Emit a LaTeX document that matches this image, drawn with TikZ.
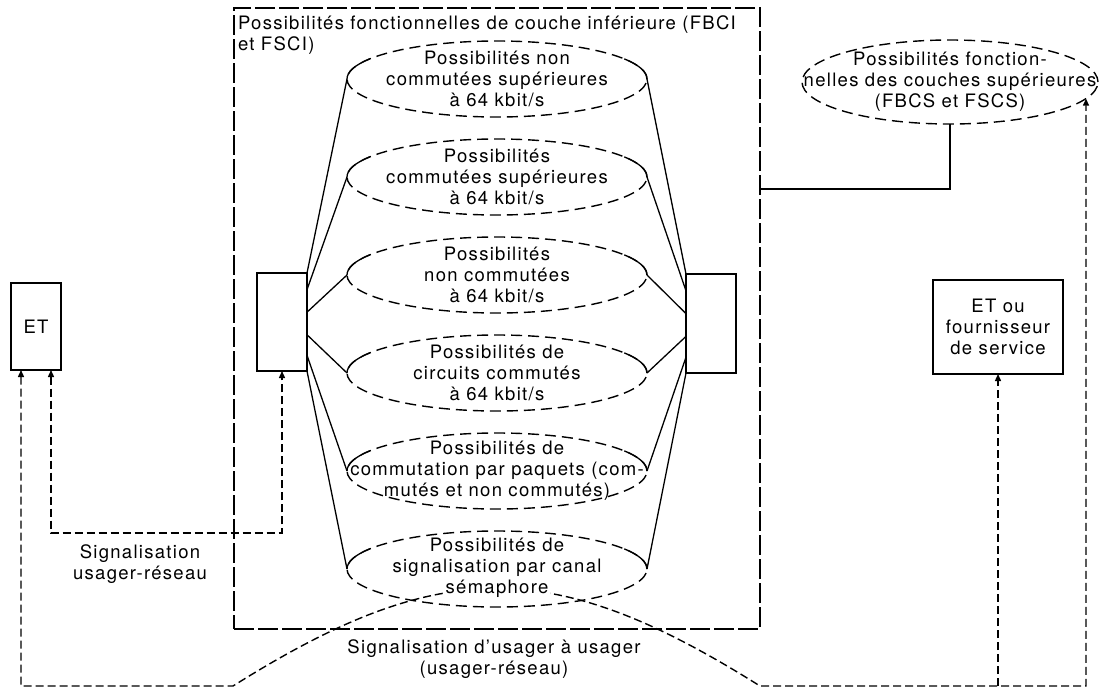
\documentclass[tikz,border=0pt]{standalone}
\usepackage{fontspec}
\setmainfont{TeX Gyre Heros}[LetterSpace=7]
\usetikzlibrary{arrows.meta,calc,shapes.geometric}
\setlength\fboxsep{1.5pt}
\begin{document}
\begin{tikzpicture}[x=1pt,y=-1pt,
  every node/.style={font=\fontsize{18.5}{21}\selectfont, inner sep=0pt, outer sep=0pt},
  ell/.style={draw, ellipse, dash pattern=on 11pt off 6pt, line width=1.4pt, minimum width=300pt, minimum height=76pt},
  boxe/.style={draw, line width=2.6pt},
  conn/.style={line width=1.3pt},
  sig/.style={line width=1.4pt, dash pattern=on 8pt off 4pt},
  framebox/.style={draw, line width=1.1pt, dash pattern=on 20pt off 4pt},
  txt/.style={align=center},
  >={Triangle[length=7pt,width=6pt]}
]
\useasboundingbox (0,0) rectangle (1099,691);

% frame
\node[framebox, minimum width=526pt, minimum height=621pt, anchor=north west] (frame) at (234,8) {};
\node[anchor=north west, align=left] (ftitle) at (238,15.5) {Possibilités fonctionnelles de couche inférieure (FBCI\\et FSCI)};

% ellipses
\node[ell, label={[txt]center:{Possibilités non\\commutées supérieures\\à 64 kbit/s}}] (e1) at (497,79) {};
\node[ell, label={[txt]center:{Possibilités\\commutées supérieures\\à 64 kbit/s}}] (e2) at (497,177) {};
\node[ell, label={[txt]center:{Possibilités\\non commutées\\à 64 kbit/s}}] (e3) at (497,275) {};
\node[ell, label={[txt]center:{Possibilités de\\circuits commutés\\à 64 kbit/s}}] (e4) at (497,373) {};
\node[ell, label={[txt]center:{Possibilités de\\commutation par paquets (com-\\mutés et non commutés)}}] (e5) at (497,471) {};

% boxes
\node[boxe, minimum width=50pt, minimum height=98pt] (lb) at (282,322) {};
\node[boxe, minimum width=50pt, minimum height=99pt] (rb) at (711,323.5) {};
\node[boxe, minimum width=50pt, minimum height=87pt] (et) at (36,326.5) {ET};
\node[boxe, minimum width=130pt, minimum height=94pt, align=center] (eto) at (998,327) {ET ou\\fournisseur\\de service};

% upper layer functions
\node[ell, minimum width=296pt, minimum height=84pt, label={[txt]center:{Possibilités fonction-\\nelles des couches supérieures\\(FBCS et FSCS)}}] (hl) at (950,82) {};

% signalling paths
\coordinate (ybot) at (0,686);
\coordinate (yloop) at (0,533);
\coordinate (c0) at (233,686);
\coordinate (c3) at (760,686);
\coordinate (rx) at (1086,686);
\coordinate (a0) at ($(et.south west)+(10,0)$);
\coordinate (a1) at ($(et.south east)+(-10,0)$);
\draw[sig, <->] (a0) -- (a0 |- ybot) -- (c0) .. controls (440,556) and (553,556) .. (c3) -- (rx) -- (rx |- hl.-7);
\draw[sig, <->] (a1) -- (a1 |- yloop) -| (lb.south);
\draw[sig, ->] (eto.south |- ybot) -- (eto.south);

% last ellipse, drawn over the user-to-user path
\node[ell, label={[txt]center:{Possibilités de\\signalisation par canal\\\colorbox{white}{sémaphore}}}] (e6) at (497,569) {};

% fan lines
\foreach \e/\f in {e1/0, e2/0.17, e3/0.4, e4/0.63, e5/0.84, e6/1} {
  \draw[conn] (\e.west) -- ($(lb.north east)!\f!(lb.south east)$);
  \draw[conn] (\e.east) -- ($(rb.north west)!\f!(rb.south west)$);
  \draw[conn] (\e.west) arc[start angle=180, end angle=212, x radius=150, y radius=38];
  \draw[conn] (\e.east) arc[start angle=0, end angle=-32, x radius=150, y radius=38];
}

% connector from upper layer to frame
\coordinate (jy) at (0,189);
\draw[conn] (hl.south) -- (hl.south |- jy) -- (frame.east |- jy);

% texts
\node[align=center] (sur) at (140,564) {Signalisation\\usager-réseau};
\node[align=center] (suu) at (494,659) {Signalisation d’usager à usager\\(usager-réseau)};
\end{tikzpicture}
\end{document}
